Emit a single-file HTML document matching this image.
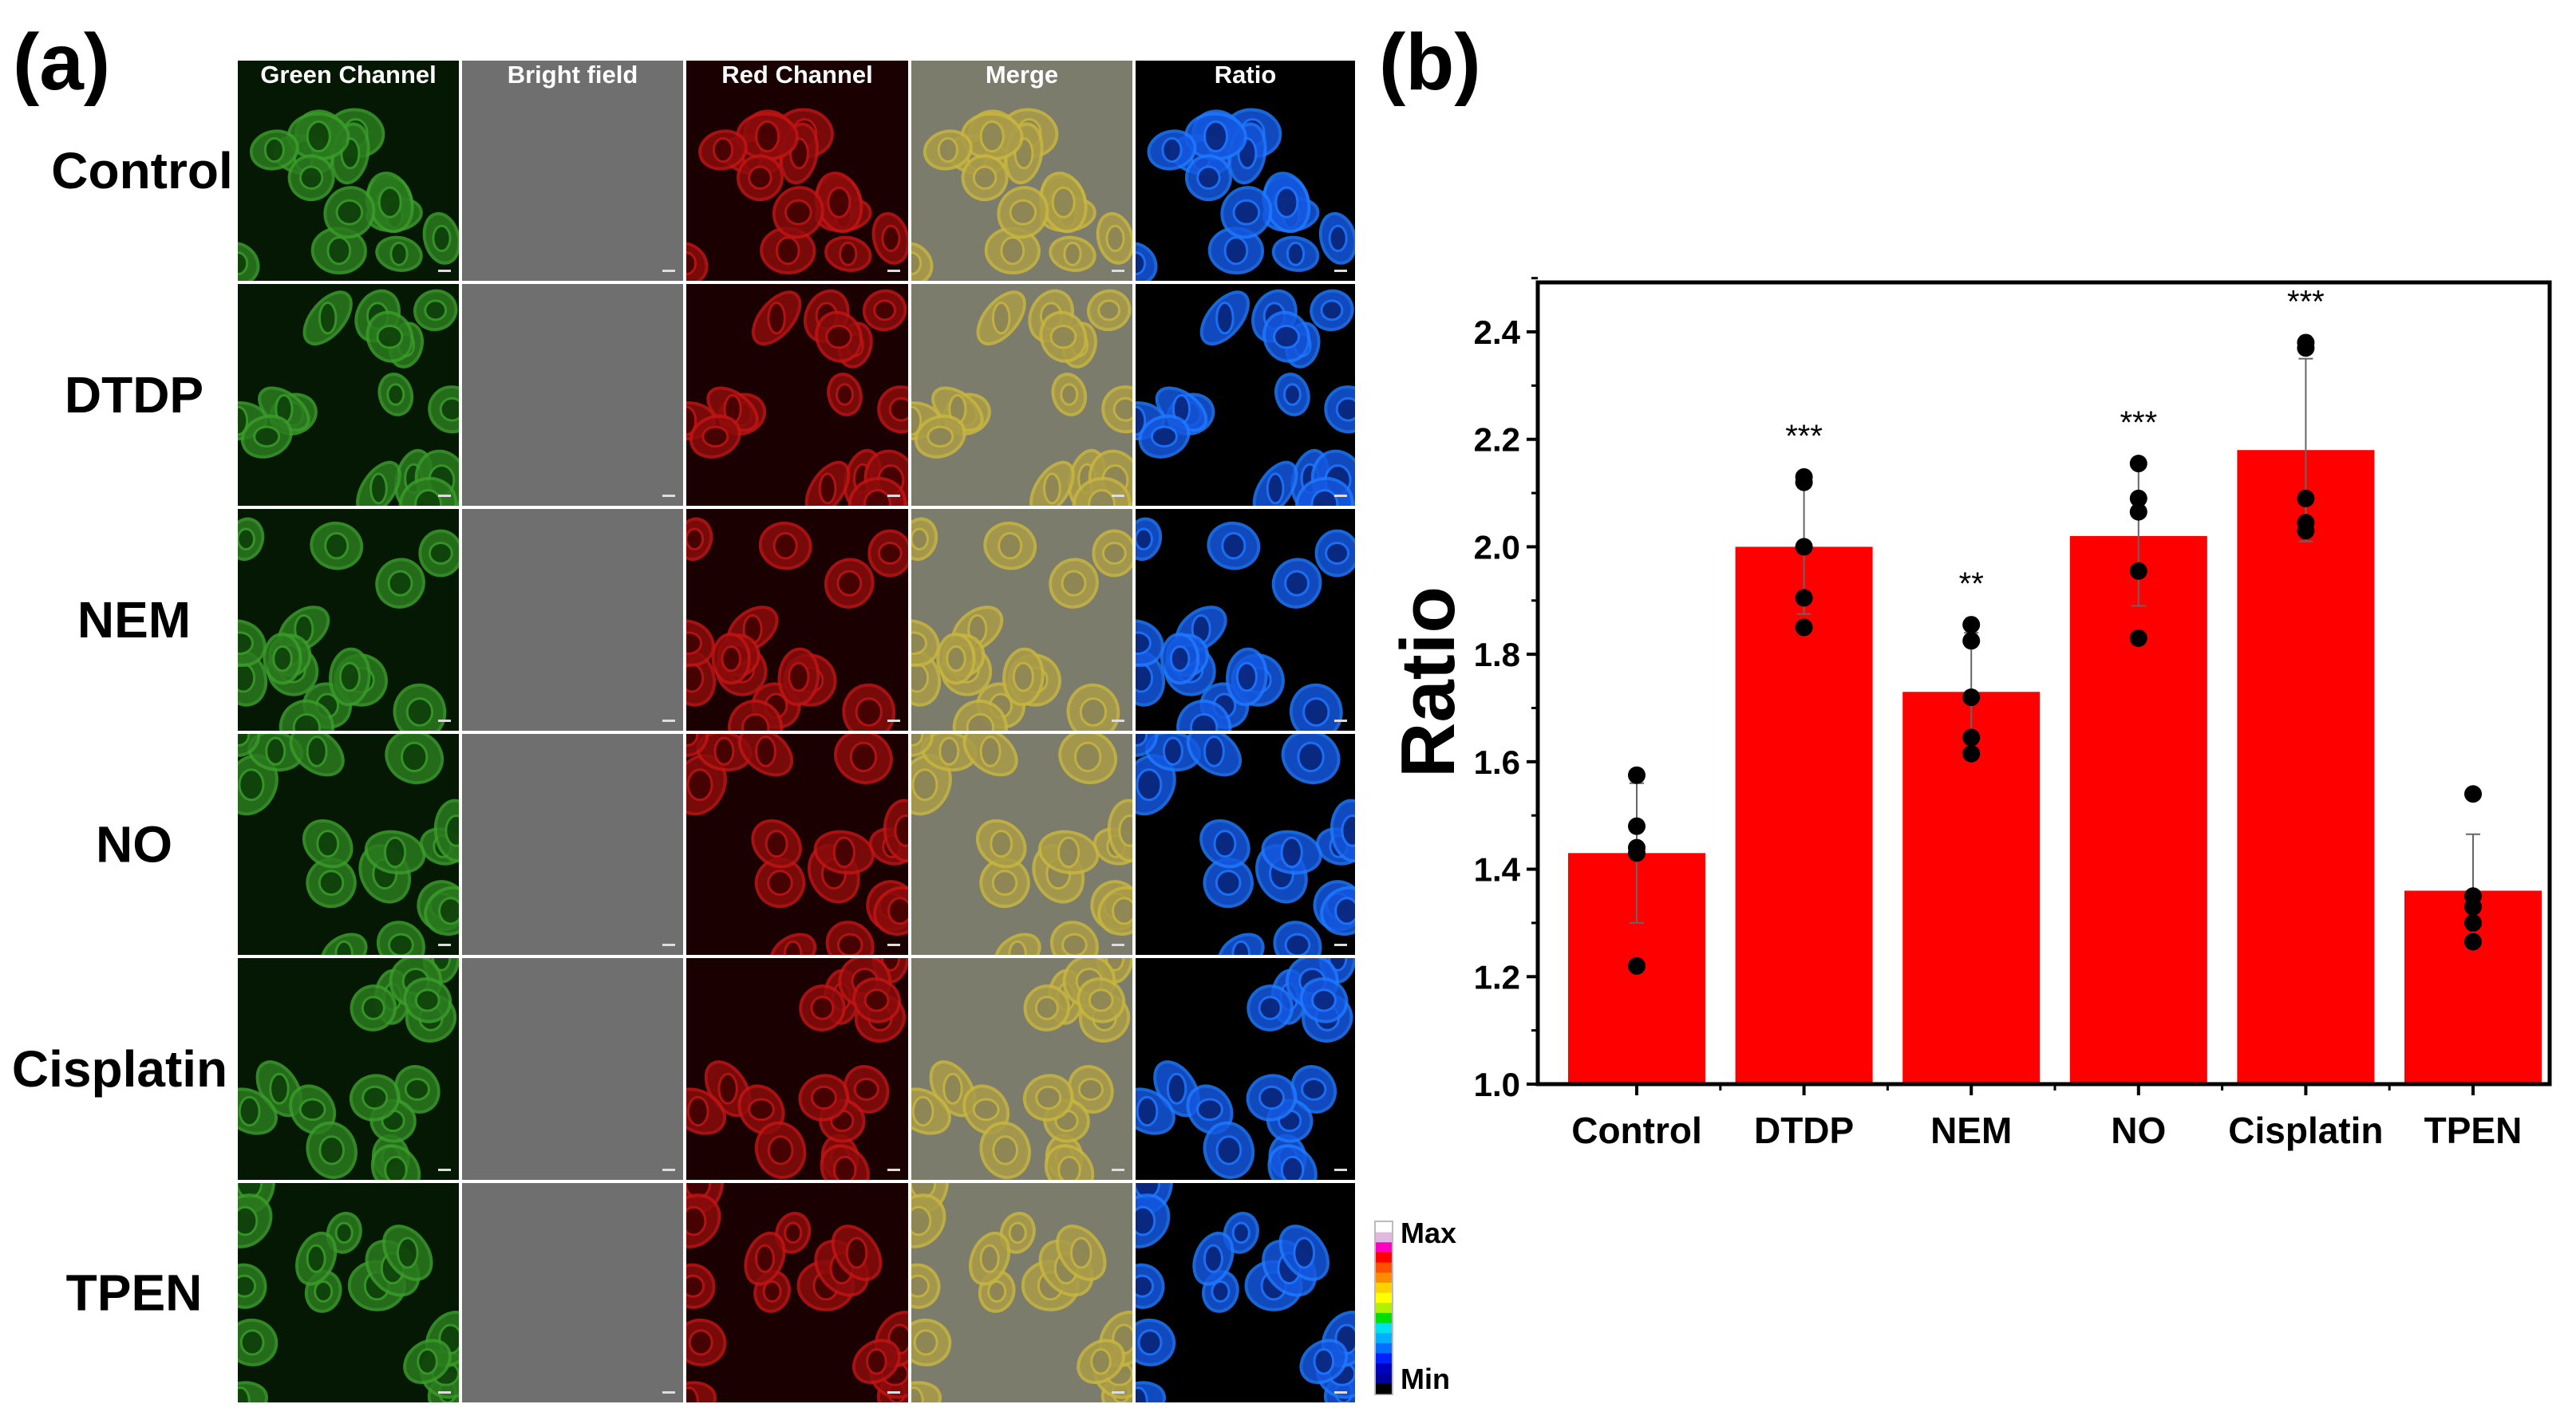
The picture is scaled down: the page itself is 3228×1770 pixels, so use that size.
<!DOCTYPE html>
<html><head><meta charset="utf-8"><style>
html,body{margin:0;padding:0;background:#fff;}
svg{display:block;font-family:"Liberation Sans",Arial,sans-serif;}
</style></head><body>
<svg id="fig" width="3228" height="1770" viewBox="0 0 3228 1770" xmlns="http://www.w3.org/2000/svg">
<rect width="3228" height="1770" fill="#fff"/>
<text x="16" y="112" font-size="100" font-weight="bold">(a)</text>
<text x="1728" y="112" font-size="100" font-weight="bold">(b)</text>
<g id="grid"></g>
<g id="rowlabels"></g>
<g>
  <rect x="1722" y="1530" width="24" height="219" fill="#bbb"/>
  <g id="cbar"></g>
  <text x="1755" y="1558" font-size="36" font-weight="bold">Max</text>
  <text x="1755" y="1741" font-size="36" font-weight="bold">Min</text>
</g>
<g id="chart"></g>
</svg>
<script>
const categories = ["Control","DTDP","NEM","NO","Cisplatin","TPEN"];
const means = [1.43, 2.00, 1.73, 2.02, 2.18, 1.36];
const sds = [0.13, 0.125, 0.11, 0.13, 0.17, 0.105];
const points = [
  [1.575,1.48,1.44,1.43,1.22],
  [2.13,2.12,2.00,1.905,1.85],
  [1.855,1.825,1.72,1.645,1.615],
  [2.155,2.09,2.065,1.955,1.83],
  [2.38,2.37,2.09,2.045,2.03],
  [1.54,1.35,1.33,1.30,1.265]
];
const stars = ["","***","**","***","***",""];
const yTicks = [1.0,1.2,1.4,1.6,1.8,2.0,2.2,2.4];
const rowNames = ["Control","DTDP","NEM","NO","Cisplatin","TPEN"];
const colNames = ["Green Channel","Bright field","Red Channel","Merge","Ratio"];
const cbarColors = ["#ffffff","#e0b8e0","#ff00c0","#ff0000","#ff5000","#ff8c00","#ffd000","#ffff00","#b0f000","#00e000","#00e0f0","#00b0ff","#0070ff","#0020ff","#0000c0","#0000a0","#000000"];

const NS="http://www.w3.org/2000/svg";
function mk(tag, attrs, parent){const e=document.createElementNS(NS,tag);for(const k in attrs)e.setAttribute(k,attrs[k]);parent.appendChild(e);return e;}

const cb=document.getElementById('cbar');
const cbH=215/cbarColors.length;
cbarColors.forEach((c,i)=>{
  const r=mk('rect',{x:1724,y:1532+i*cbH,width:20,height:cbH+0.5,fill:c},cb);
  
  
});

const grid=document.getElementById('grid');
const colX=[296,577,858,1140,1421,1700];
const rowY=[74,354,636,918,1199,1481,1760];
const styles=[
  {bg:"#051804",cell:"#2a7a1e",ring:"#3a9c2a",nuc:"#0c3a08"},
  {bg:"#6f6f6f",cell:"#727272",ring:"#7a7a7a",nuc:"#6c6c6c"},
  {bg:"#1a0000",cell:"#8a0c0c",ring:"#c01414",nuc:"#3a0000"},
  {bg:"#7c7c6c",cell:"#aa9c48",ring:"#c8b640",nuc:"#8a8458"},
  {bg:"#000000",cell:"#1458e0",ring:"#1e78ff",nuc:"#082070"}
];
let seed=7;function rnd(){seed=(seed*16807)%2147483647;return seed/2147483647;}
for(let r=0;r<6;r++){
  const cells=[];
  for(let k=0;k<15;k++)cells.push([rnd(),rnd(),15+rnd()*10,20+rnd()*12,rnd()*180]);
  for(let c=0;c<5;c++){
    const x=colX[c]+2,y=rowY[r]+2,w=colX[c+1]-colX[c]-4,h=rowY[r+1]-rowY[r]-4;
    const g=mk('g',{},grid);
    
    
    const cp='cp'+r+'_'+c;
    const clip=mk('clipPath',{id:cp},g);mk('rect',{x:x,y:y,width:w,height:h},clip);
    mk('rect',{x:x,y:y,width:w,height:h,fill:styles[c].bg},g);
    const inner=mk('g',{'clip-path':'url(#'+cp+')'},g);
    if(c!==1){cells.forEach(cl=>{
      const cx=x+cl[0]*w,cy=y+cl[1]*h;
      mk('ellipse',{cx:cx,cy:cy,rx:cl[2]*1.3,ry:cl[3]*1.2,fill:styles[c].cell,stroke:styles[c].ring,'stroke-width':4,transform:`rotate(${cl[4]} ${cx} ${cy})`,opacity:0.85},inner);
      mk('ellipse',{cx:cx,cy:cy,rx:cl[2]*0.65,ry:cl[3]*0.6,fill:styles[c].nuc,stroke:styles[c].ring,'stroke-width':3,opacity:0.8},inner);
    });}
    mk('rect',{x:x+w-26,y:y+h-14,width:16,height:3,fill:"#ddd"},g);
  }
}
for(let r=0;r<6;r++)for(let c=0;c<5;c++){
  mk('rect',{x:colX[c],y:rowY[r],width:colX[c+1]-colX[c],height:rowY[r+1]-rowY[r],fill:"none",stroke:"#ffffff",'stroke-width':3},grid);
}
colNames.forEach((n,i)=>{
  const t=mk('text',{x:(colX[i]+colX[i+1])/2,y:104,'font-size':31,'font-weight':'bold',fill:'#fff','text-anchor':'middle'},grid);
  t.textContent=n;
  
  
});
const rl=document.getElementById('rowlabels');
const rowLabelX=[178,168,168,168,150,168];
rowNames.forEach((n,i)=>{
  const t=mk('text',{x:rowLabelX[i],y:(rowY[i]+rowY[i+1])/2+22,'font-size':64,'font-weight':'bold','text-anchor':'middle'},rl);
  t.textContent=n;
  
  
});

const ch=document.getElementById('chart');
const L=1927,R=3195,T=354,B=1359,ymin=1.0,y24=416;
const ppu=(B-y24)/1.4;
function ys(v){return B-(v-ymin)*ppu;}
const step=(3099-2051)/5;
function xs(i){return 2051+i*step;}
const bw=172;
categories.forEach((c,i)=>{
  const b=mk('rect',{x:xs(i)-bw/2,y:ys(means[i]),width:bw,height:B-ys(means[i]),fill:'#ff0000'},ch);
  
  
  const lo=ys(means[i]-sds[i]),hi=ys(means[i]+sds[i]);
  const e=mk('path',{d:`M${xs(i)},${lo}V${hi}M${xs(i)-9},${lo}H${xs(i)+9}M${xs(i)-9},${hi}H${xs(i)+9}`,stroke:'#666','stroke-width':2,fill:'none'},ch);
  
  
  points[i].forEach(v=>{
    const p=mk('circle',{cx:xs(i),cy:ys(v),r:11,fill:'#000'},ch);
    
    
  });
  if(stars[i]){
    const top=Math.max(...points[i],means[i]+sds[i]);
    const s=mk('text',{x:xs(i),y:ys(top)-38,'font-size':40,'text-anchor':'middle'},ch);
    s.textContent=stars[i];
    
    
  }
  const t=mk('text',{x:xs(i),y:B+74,'font-size':46,'font-weight':'bold','text-anchor':'middle'},ch);
  t.textContent=c;
  
  
});
const fr=mk('rect',{x:L,y:T,width:R-L,height:B-T,fill:'none',stroke:'#000','stroke-width':5},ch);


yTicks.forEach(v=>{
  mk('line',{x1:L-14,x2:L,y1:ys(v),y2:ys(v),stroke:'#000','stroke-width':4},ch);
  mk('line',{x1:L-8,x2:L,y1:ys(v+0.1),y2:ys(v+0.1),stroke:'#000','stroke-width':3},ch);
  const t=mk('text',{x:L-22,y:ys(v)+15,'font-size':42,'font-weight':'bold','text-anchor':'end'},ch);
  t.textContent=v.toFixed(1);
  
  
});
categories.forEach((c,i)=>{mk('line',{x1:xs(i),x2:xs(i),y1:B,y2:B+14,stroke:'#000','stroke-width':4},ch);
  if(i<5)mk('line',{x1:xs(i)+step/2,x2:xs(i)+step/2,y1:B,y2:B+8,stroke:'#000','stroke-width':3},ch);});
const yl=mk('text',{x:1822,y:855,'font-size':96,'font-weight':'bold','text-anchor':'middle',transform:'rotate(-90 1822 855)'},ch);
yl.textContent="Ratio";


</script>
</body></html>
